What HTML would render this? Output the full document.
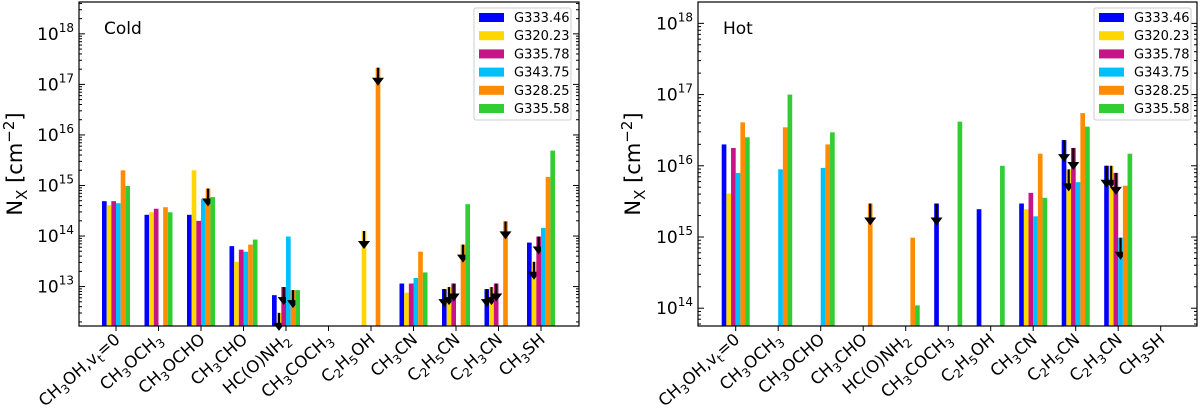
<!DOCTYPE html>
<html><head><meta charset="utf-8"><style>
body{margin:0;background:#fff;width:1200px;height:407px;overflow:hidden}
svg text{font-family:"DejaVu Sans","Liberation Sans",sans-serif;fill:#000}
</style></head><body>
<svg id="chart" width="1200" height="407" viewBox="0 0 1200 407" xmlns="http://www.w3.org/2000/svg"></svg>
<script>
const molecules = ["CH3OH,vt=0","CH3OCH3","CH3OCHO","CH3CHO","HC(O)NH2","CH3COCH3","C2H5OH","CH3CN","C2H5CN","C2H3CN","CH3SH"];
const sources = ["G333.46","G320.23","G335.78","G343.75","G328.25","G335.58"];
const colors = ["#0000ff","#ffd700","#c71585","#00bfff","#ff8c00","#32cd32"];
// log10 column densities per source (null = no bar), cold component
const coldG33346 = [14.69,14.42,14.42,13.80,12.83,null,null,13.06,12.95,12.95,13.87];
const coldG32023 = [14.61,14.47,15.30,13.49,12.48,null,14.10,12.88,12.99,12.99,13.49];
const coldG33578 = [14.69,14.54,14.30,13.73,12.99,null,null,13.06,13.06,13.06,13.99];
const coldG34375 = [14.65,null,14.73,13.69,13.99,null,null,13.17,null,null,14.16];
const coldG32825 = [15.30,14.57,14.94,13.83,12.93,null,17.33,13.69,13.83,14.29,15.17];
const coldG33558 = [14.99,14.47,14.77,13.93,12.93,null,null,13.28,14.63,null,15.69];
// upper-limit flags (1 = arrow)
const coldLimG33346 = [0,0,0,0,0,0,0,0,1,1,0];
const coldLimG32023 = [0,0,0,0,1,0,1,0,1,1,1];
const coldLimG33578 = [0,0,0,0,1,0,0,0,1,1,1];
const coldLimG34375 = [0,0,0,0,0,0,0,0,0,0,0];
const coldLimG32825 = [0,0,1,0,1,0,1,0,1,1,0];
const coldLimG33558 = [0,0,0,0,0,0,0,0,0,0,0];
// hot component
const hotG33346 = [16.30,null,null,null,null,15.47,15.39,15.47,16.36,16.00,null];
const hotG32023 = [15.61,null,null,null,null,null,null,15.39,15.95,16.00,null];
const hotG33578 = [16.25,null,null,null,null,null,null,15.62,16.25,15.90,null];
const hotG34375 = [15.90,15.95,15.97,null,null,null,null,15.29,15.77,14.99,null];
const hotG32825 = [16.61,16.54,16.30,15.47,14.99,null,null,16.17,16.74,15.72,null];
const hotG33558 = [16.40,17.00,16.47,null,14.04,16.62,16.00,15.55,16.55,16.17,null];
const hotLimG33346 = [0,0,0,0,0,1,0,0,1,1,0];
const hotLimG32023 = [0,0,0,0,0,0,0,0,1,1,0];
const hotLimG33578 = [0,0,0,0,0,0,0,0,1,1,0];
const hotLimG34375 = [0,0,0,0,0,0,0,0,0,1,0];
const hotLimG32825 = [0,0,0,1,0,0,0,0,0,0,0];
const hotLimG33558 = [0,0,0,0,0,0,0,0,0,0,0];
const coldTicks = [13,14,15,16,17,18];
const hotTicks = [14,15,16,17,18];

const NS="http://www.w3.org/2000/svg";
const svg=document.getElementById('chart');
function mk(tag,attrs,parent){const e=document.createElementNS(NS,tag);for(const k in attrs)e.setAttribute(k,attrs[k]);(parent||svg).appendChild(e);return e;}

function labelTspans(t,name){
  let parts=[];
  if(name==="CH3OH,vt=0"){parts=[["CH",0],["3",1],["OH,v",0],["t",1],["=0",0]];}
  else if(name==="HC(O)NH2"){parts=[["HC(O)NH",0],["2",1]];}
  else{const re=/([A-Za-z()]+)|(\d+)/g;let m;while((m=re.exec(name))){parts.push(m[1]?[m[1],0]:[m[2],1]);}}
  let sub=false;
  parts.forEach(p=>{
    const ts=mk('tspan',{},t);
    if(p[1]&&!sub){ts.setAttribute('dy','4');ts.setAttribute('font-size','12');sub=true;}
    else if(p[1]){ts.setAttribute('font-size','12');}
    else if(sub){ts.setAttribute('dy','-4');sub=false;}
    ts.textContent=p[0];
  });
}

function panel(cfg){
  const g=mk('g',{});
  
  
  const {L,R,T,B,ymin,ymax}=cfg;
  const y=v=>B-(v-ymin)/(ymax-ymin)*(B-T);
  const x=i=>cfg.x0+i*42.5;
  const bw=4.67;
  mk('rect',{x:L,y:T,width:R-L,height:B-T,fill:'#fff'},g);
  cfg.series.forEach((vals,s)=>{
    vals.forEach((v,i)=>{
      if(v===null)return;
      const bx=x(i)-14+s*bw, by=y(v);
      const r=mk('rect',{x:bx,y:by,width:bw,height:B-by,fill:colors[s]},g);
      
      
      if(cfg.lims[s][i]){
        const cx=bx+bw/2, len=cfg.arrow;
        const a=mk('g',{},g);
        
        
        mk('line',{x1:cx,y1:by,x2:cx,y2:by+len-5,stroke:'#000','stroke-width':2.2},a);
        mk('path',{d:`M${cx-6},${by+len-8}L${cx+6},${by+len-8}L${cx},${by+len}Z`,fill:'#000'},a);
      }
    });
  });
  mk('rect',{x:L,y:T,width:R-L,height:B-T,fill:'none',stroke:'#000','stroke-width':1.2},g);
  for(let d=Math.floor(ymin);d<=Math.ceil(ymax);d++){
    for(let k=1;k<10;k++){
      const v=d+Math.log10(k); if(v<ymin||v>ymax)continue;
      const yy=y(v), len=k===1?6:3;
      mk('line',{x1:L,y1:yy,x2:L+len,y2:yy,stroke:'#000','stroke-width':1},g);
      mk('line',{x1:R,y1:yy,x2:R-len,y2:yy,stroke:'#000','stroke-width':1},g);
    }
  }
  cfg.ticks.forEach(d=>{
    const t=mk('text',{x:L-5,y:y(d)+6,'text-anchor':'end','font-size':17},g);
    
    
    t.textContent='10';
    const s=mk('tspan',{dy:-8,'font-size':12},t); s.textContent=String(d);
  });
  molecules.forEach((m,i)=>{
    mk('line',{x1:x(i),y1:B,x2:x(i),y2:B+5,stroke:'#000','stroke-width':1},g);
    const t=mk('text',{'text-anchor':'end','font-size':16.5,transform:`translate(${x(i)+5},${B+15}) rotate(-41)`},g);
    
    
    labelTspans(t,m);
  });
  const yt=mk('text',{'font-size':21,'text-anchor':'middle',transform:`translate(${cfg.ytx},164) rotate(-90)`},g);
  
  
  yt.textContent='N';
  const sx=mk('tspan',{dy:5,'font-size':15},yt); sx.textContent='X';
  const sp=mk('tspan',{dy:-5},yt); sp.textContent=' [cm';
  const se=mk('tspan',{dy:-8,'font-size':15},yt); se.textContent='−2';
  const sc=mk('tspan',{dy:8},yt); sc.textContent=']';
  const pt=mk('text',{x:L+25,y:34,'font-size':17},g);
  
  
  pt.textContent=cfg.title;
  const lg=mk('g',{},g);
  
  
  mk('rect',{x:cfg.lx,y:8,width:97,height:112,fill:'#fff',stroke:'#ccc','stroke-width':1,rx:2},lg);
  sources.forEach((s,k)=>{
    const e=mk('g',{},lg);
    
    
    mk('rect',{x:cfg.lx+5,y:13+k*18.2,width:25,height:9,fill:colors[k]},e);
    const t=mk('text',{x:cfg.lx+40,y:22+k*18.2,'font-size':13},e); t.textContent=s;
  });
}

panel({name:'cold',title:'Cold',L:79,R:579,T:2,B:326,ymin:12.22,ymax:18.63,x0:116,arrow:18,ticks:coldTicks,ytx:22,lx:474,
  series:[coldG33346,coldG32023,coldG33578,coldG34375,coldG32825,coldG33558],
  lims:[coldLimG33346,coldLimG32023,coldLimG33578,coldLimG34375,coldLimG32825,coldLimG33558]});
panel({name:'hot',title:'Hot',L:698,R:1197,T:2,B:326,ymin:13.75,ymax:18.30,x0:735.7,arrow:22,ticks:hotTicks,ytx:640,lx:1094,
  series:[hotG33346,hotG32023,hotG33578,hotG34375,hotG32825,hotG33558],
  lims:[hotLimG33346,hotLimG32023,hotLimG33578,hotLimG34375,hotLimG32825,hotLimG33558]});
</script>
</body></html>
